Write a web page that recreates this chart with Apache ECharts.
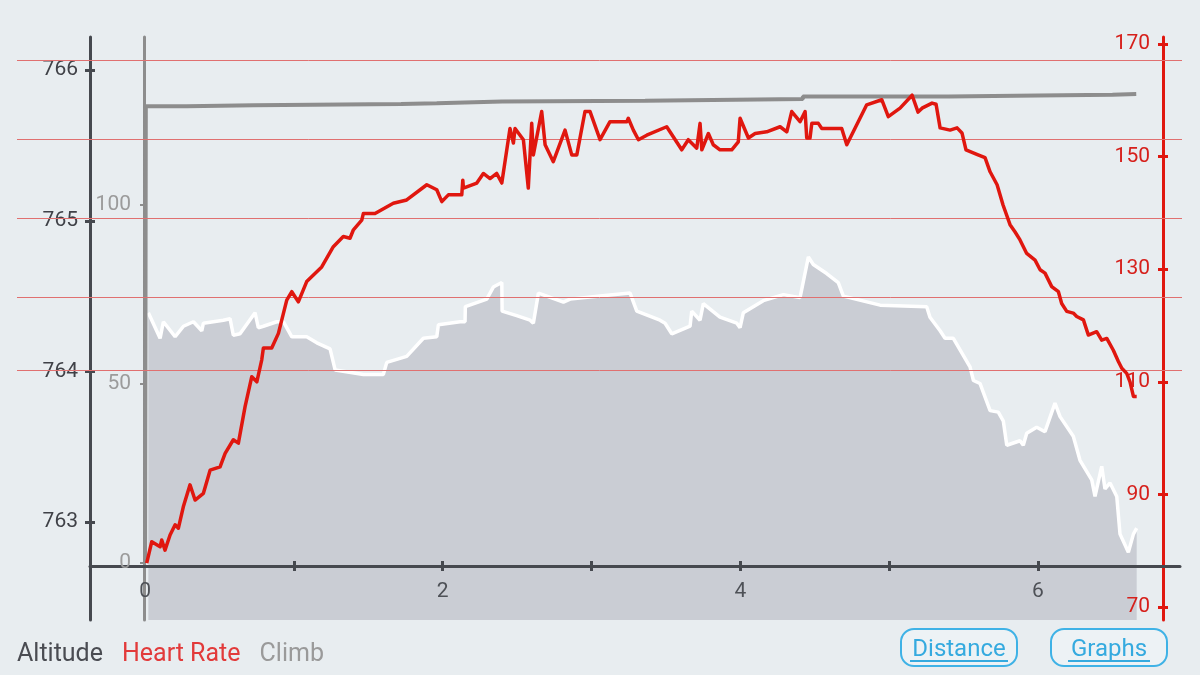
<!DOCTYPE html>
<html>
<head>
<meta charset="utf-8">
<title>Altitude / Heart Rate / Climb</title>
<script src="https://cdn.jsdelivr.net/npm/echarts@6/dist/echarts.min.js"></script>
<style>
  html, body { margin: 0; padding: 0; background: #e8edf0; }
  #chart { width: 1200px; height: 675px; }
</style>
</head>
<body>
<div id="chart"></div>
<script>
// distance (km) -> altitude (m)
var altKm = [0.022,0.101,0.123,0.202,0.258,0.325,0.381,0.392,0.526,0.571,0.593,0.638,0.739,0.761,0.795,0.885,0.929,0.986,1.086,1.154,1.243,1.277,1.467,1.601,1.624,1.758,1.870,1.960,1.971,2.117,2.150,2.152,2.296,2.340,2.397,2.399,2.497,2.587,2.609,2.643,2.811,2.856,3.057,3.259,3.304,3.460,3.494,3.539,3.662,3.673,3.729,3.751,3.863,3.976,3.998,4.020,4.154,4.289,4.401,4.457,4.490,4.580,4.658,4.692,4.939,5.252,5.274,5.342,5.375,5.431,5.543,5.566,5.610,5.678,5.733,5.767,5.790,5.879,5.901,5.924,5.991,6.047,6.114,6.148,6.237,6.282,6.361,6.383,6.428,6.450,6.484,6.529,6.551,6.607,6.641,6.663];
var altitude = [764.39,764.22,764.33,764.23,764.30,764.33,764.27,764.32,764.34,764.35,764.24,764.25,764.39,764.29,764.30,764.33,764.33,764.23,764.23,764.19,764.15,764.01,763.98,763.98,764.06,764.10,764.22,764.23,764.31,764.33,764.33,764.43,764.48,764.56,764.59,764.40,764.37,764.34,764.32,764.52,764.46,764.48,764.50,764.52,764.40,764.34,764.32,764.25,764.30,764.40,764.34,764.45,764.36,764.32,764.29,764.39,764.47,764.51,764.49,764.76,764.71,764.65,764.59,764.50,764.44,764.43,764.36,764.27,764.22,764.22,764.03,763.94,763.92,763.74,763.73,763.67,763.51,763.54,763.51,763.59,763.63,763.60,763.79,763.70,763.57,763.41,763.28,763.17,763.37,763.22,763.26,763.17,762.92,762.80,762.92,762.96];

// distance (km) -> heart rate (bpm)
var hrKm = [0.011,0.045,0.101,0.112,0.134,0.168,0.202,0.224,0.257,0.269,0.302,0.336,0.392,0.437,0.504,0.538,0.593,0.627,0.672,0.717,0.751,0.784,0.795,0.851,0.896,0.952,0.986,1.030,1.086,1.187,1.198,1.265,1.332,1.377,1.400,1.456,1.467,1.545,1.668,1.758,1.893,1.960,1.994,2.038,2.128,2.135,2.139,2.229,2.273,2.318,2.363,2.397,2.452,2.475,2.486,2.542,2.575,2.598,2.609,2.665,2.688,2.743,2.822,2.867,2.901,2.956,2.990,3.057,3.124,3.237,3.247,3.281,3.315,3.371,3.505,3.527,3.606,3.650,3.707,3.729,3.741,3.785,3.818,3.863,3.942,3.986,3.998,4.054,4.099,4.177,4.267,4.312,4.345,4.401,4.435,4.446,4.468,4.480,4.524,4.547,4.681,4.715,4.849,4.950,4.994,5.073,5.154,5.194,5.221,5.288,5.315,5.342,5.409,5.456,5.489,5.516,5.597,5.644,5.678,5.725,5.765,5.812,5.846,5.879,5.924,5.980,6.014,6.047,6.092,6.137,6.159,6.193,6.237,6.260,6.305,6.338,6.394,6.428,6.462,6.506,6.540,6.563,6.596,6.618,6.641,6.663];
var heartRate = [77.8,81.6,80.7,81.9,80.1,82.8,84.6,84.0,87.8,87.8,91.7,89.0,90.2,94.3,94.9,97.3,99.7,99.1,105.6,110.9,110.0,113.9,116.0,116.0,118.6,124.5,126.0,124.2,127.8,130.4,130.2,134.0,135.8,135.5,137.0,138.7,139.9,139.9,141.7,142.3,145.0,144.1,142.0,143.2,143.2,145.8,144.4,145.3,147.0,146.1,147.0,145.3,155.0,152.4,155.0,153.0,144.4,155.9,150.3,158.0,152.1,149.1,154.7,150.3,150.3,158.0,158.0,153.0,156.2,156.2,156.8,154.7,153.0,153.8,155.3,154.4,151.2,153.0,151.5,155.9,151.2,154.1,152.1,151.2,151.2,152.6,156.8,153.3,154.1,154.4,155.3,154.4,158.0,156.2,158.0,153.3,153.3,155.9,155.9,155.0,155.0,152.1,159.2,160.1,157.1,158.6,160.9,157.9,158.6,159.5,159.3,155.1,154.7,155.1,154.2,151.2,150.3,149.8,147.3,145.0,141.4,137.9,136.6,135.2,132.8,131.6,129.9,129.3,126.9,126.0,123.9,122.5,122.2,121.6,121.0,118.3,118.9,117.4,117.7,115.6,113.6,112.4,111.5,110.0,107.4,107.4];

// distance (km) -> cumulative climb (m)
var climbKm = [0,0.005,0.28,0.28,0.73,0.73,1.72,1.72,1.96,1.96,2.4,2.4,3.36,3.36,4.42,4.42,5.4,5.4,6.0,6.0,6.5,6.5,6.66];
var climb = [0,127.6,127.6,127.9,127.9,128.2,128.2,128.4,128.4,128.9,128.9,129.1,129.1,129.6,129.6,130.3,130.3,130.6,130.6,130.8,130.8,131.0,131.0];

// heart-rate zone lines (bpm)
var hrZones = [167.07, 153.03, 139.0, 124.97, 112.0];

// tick labels
var kmTicks = [0, 2, 4, 6];
var kmTickMarks = [1, 2, 3, 4, 5, 6];
var altTicks = [763, 764, 765, 766];
var climbTicks = [0, 50, 100];
var hrTicks = [70, 90, 110, 130, 150, 170];

function zip(xs, ys) {
  return xs.map(function (x, i) { return [x, ys[i]]; });
}

var FONT = 'Roboto';
var DARK = '#46494f';
var GRAY = '#8d8d8d';
var RED = '#e0170f';

var chart = echarts.init(document.getElementById('chart'));

var option = {
  backgroundColor: '#e8edf0',
  animation: false,
  grid: [
    { left: 90, right: 20, top: 37, bottom: 55, outerBoundsMode: 'none', containLabel: false },
    { left: 17, right: 18, top: 37, bottom: 55, outerBoundsMode: 'none', containLabel: false }
  ],
  legend: {
    left: 7,
    top: 637,
    icon: 'none',
    itemWidth: 0,
    itemHeight: 14,
    itemGap: 14,
    selectedMode: false,
    textStyle: { fontFamily: FONT, fontSize: 25 },
    data: [
      { name: 'Altitude', textStyle: { color: '#4a4c52' } },
      { name: 'Heart Rate', textStyle: { color: '#e23a3a' } },
      { name: 'Climb', textStyle: { color: '#9a9a9a' } }
    ]
  },
  xAxis: [
    {
      type: 'value', gridIndex: 0, min: -0.37, max: 6.954,
      position: 'bottom', offset: -54, z: 3,
      axisLine: { onZero: false, lineStyle: { color: DARK, width: 3 } },
      axisTick: { show: true, length: 5, customValues: kmTickMarks, lineStyle: { color: DARK, width: 3 } },
      axisLabel: { customValues: kmTicks, color: '#4e5157', fontFamily: FONT, fontSize: 21, margin: 15 },
      splitLine: { show: false }
    },
    {
      type: 'value', gridIndex: 0, min: -0.37, max: 6.954,
      position: 'bottom', offset: -54, z: 3,
      axisLine: { show: false, onZero: false },
      axisTick: { show: true, inside: true, length: 5, customValues: kmTickMarks, lineStyle: { color: DARK, width: 3 } },
      axisLabel: { show: false },
      splitLine: { show: false }
    },
    { type: 'value', gridIndex: 1, min: 0, max: 1, show: false }
  ],
  yAxis: [
    {
      // altitude
      type: 'value', gridIndex: 0, min: 762.35, max: 766.22, position: 'left', offset: 0, z: 3,
      axisLine: { show: true, onZero: false, lineStyle: { color: DARK, width: 3 } },
      axisTick: { show: true, length: 5, customValues: altTicks, lineStyle: { color: DARK, width: 3 } },
      axisLabel: { customValues: altTicks, color: '#3f4147', fontFamily: FONT, fontSize: 21, margin: 12 },
      splitLine: { show: false }
    },
    {
      // climb
      type: 'value', gridIndex: 0, min: -15.92, max: 146.93, position: 'left', offset: -54, z: 3,
      axisLine: { show: true, onZero: false, lineStyle: { color: GRAY, width: 3 } },
      axisTick: { show: true, length: 4, customValues: climbTicks, lineStyle: { color: GRAY, width: 2 } },
      axisLabel: { customValues: climbTicks, color: '#9b9b9b', fontFamily: FONT, fontSize: 21, margin: 13 },
      splitLine: { show: false }
    },
    {
      // heart rate
      type: 'value', gridIndex: 0, min: 67.69, max: 171.24, position: 'right', offset: -17, z: 3,
      axisLine: { show: true, onZero: false, lineStyle: { color: RED, width: 3 } },
      axisTick: { show: true, length: 5, customValues: hrTicks, lineStyle: { color: RED, width: 3 } },
      axisLabel: { inside: true, customValues: hrTicks, color: '#d6201b', fontFamily: FONT, fontSize: 21, margin: 13 },
      splitLine: { show: false }
    },
    {
      // inner half of altitude ticks
      type: 'value', gridIndex: 0, min: 762.35, max: 766.22, position: 'left', offset: 0, z: 3,
      axisLine: { show: false, onZero: false },
      axisTick: { show: true, inside: true, length: 5, customValues: altTicks, lineStyle: { color: DARK, width: 3 } },
      axisLabel: { show: false },
      splitLine: { show: false }
    },
    {
      // inner half of heart-rate ticks
      type: 'value', gridIndex: 0, min: 67.69, max: 171.24, position: 'right', offset: -17, z: 3,
      axisLine: { show: false, onZero: false },
      axisTick: { show: true, inside: true, length: 5, customValues: hrTicks, lineStyle: { color: RED, width: 3 } },
      axisLabel: { show: false },
      splitLine: { show: false }
    },
    { type: 'value', gridIndex: 1, min: 67.69, max: 171.24, show: false, axisLine: { onZero: false } }
  ],
  series: [
    {
      name: 'Altitude',
      type: 'line',
      xAxisIndex: 0, yAxisIndex: 0,
      data: zip(altKm, altitude),
      showSymbol: false,
      z: 2,
      lineStyle: { color: '#ffffff', width: 3.5 },
      itemStyle: { color: '#4a4c52' },
      areaStyle: { color: '#cacdd4', opacity: 1, origin: 'start' }
    },
    {
      name: 'zones',
      type: 'line',
      xAxisIndex: 2, yAxisIndex: 5,
      data: [],
      z: 3,
      markLine: {
        silent: true,
        symbol: 'none',
        label: { show: false },
        lineStyle: { color: '#e07070', width: 1, type: 'solid', opacity: 1 },
        data: hrZones.map(function (v) { return { yAxis: v }; })
      }
    },
    {
      name: 'Climb',
      type: 'line',
      xAxisIndex: 0, yAxisIndex: 1,
      data: zip(climbKm, climb),
      showSymbol: false,
      z: 4,
      itemStyle: { color: '#9a9a9a' },
      lineStyle: { color: GRAY, width: 4 }
    },
    {
      name: 'Heart Rate',
      type: 'line',
      xAxisIndex: 0, yAxisIndex: 2,
      data: zip(hrKm, heartRate),
      showSymbol: false,
      z: 5,
      itemStyle: { color: RED },
      lineStyle: { color: RED, width: 3.5, join: 'round' }
    }
  ],
  graphic: [
    { type: 'rect', shape: { x: 901, y: 629, width: 116, height: 37, r: 13 }, style: { fill: '#edf2f5', stroke: '#3fb2e6', lineWidth: 2 } },
    { type: 'text', x: 959, y: 650, style: { text: 'Distance', fill: '#35aadf', font: '24px Roboto', align: 'center', verticalAlign: 'middle' } },
    { type: 'line', shape: { x1: 910, y1: 661, x2: 1008, y2: 661 }, style: { stroke: '#35aadf', lineWidth: 2 } },
    { type: 'rect', shape: { x: 1051, y: 629, width: 116, height: 37, r: 13 }, style: { fill: '#edf2f5', stroke: '#3fb2e6', lineWidth: 2 } },
    { type: 'text', x: 1109, y: 650, style: { text: 'Graphs', fill: '#35aadf', font: '24px Roboto', align: 'center', verticalAlign: 'middle' } },
    { type: 'line', shape: { x1: 1068, y1: 661, x2: 1150, y2: 661 }, style: { stroke: '#35aadf', lineWidth: 2 } }
  ]
};

chart.setOption(option);
</script>
</body>
</html>
